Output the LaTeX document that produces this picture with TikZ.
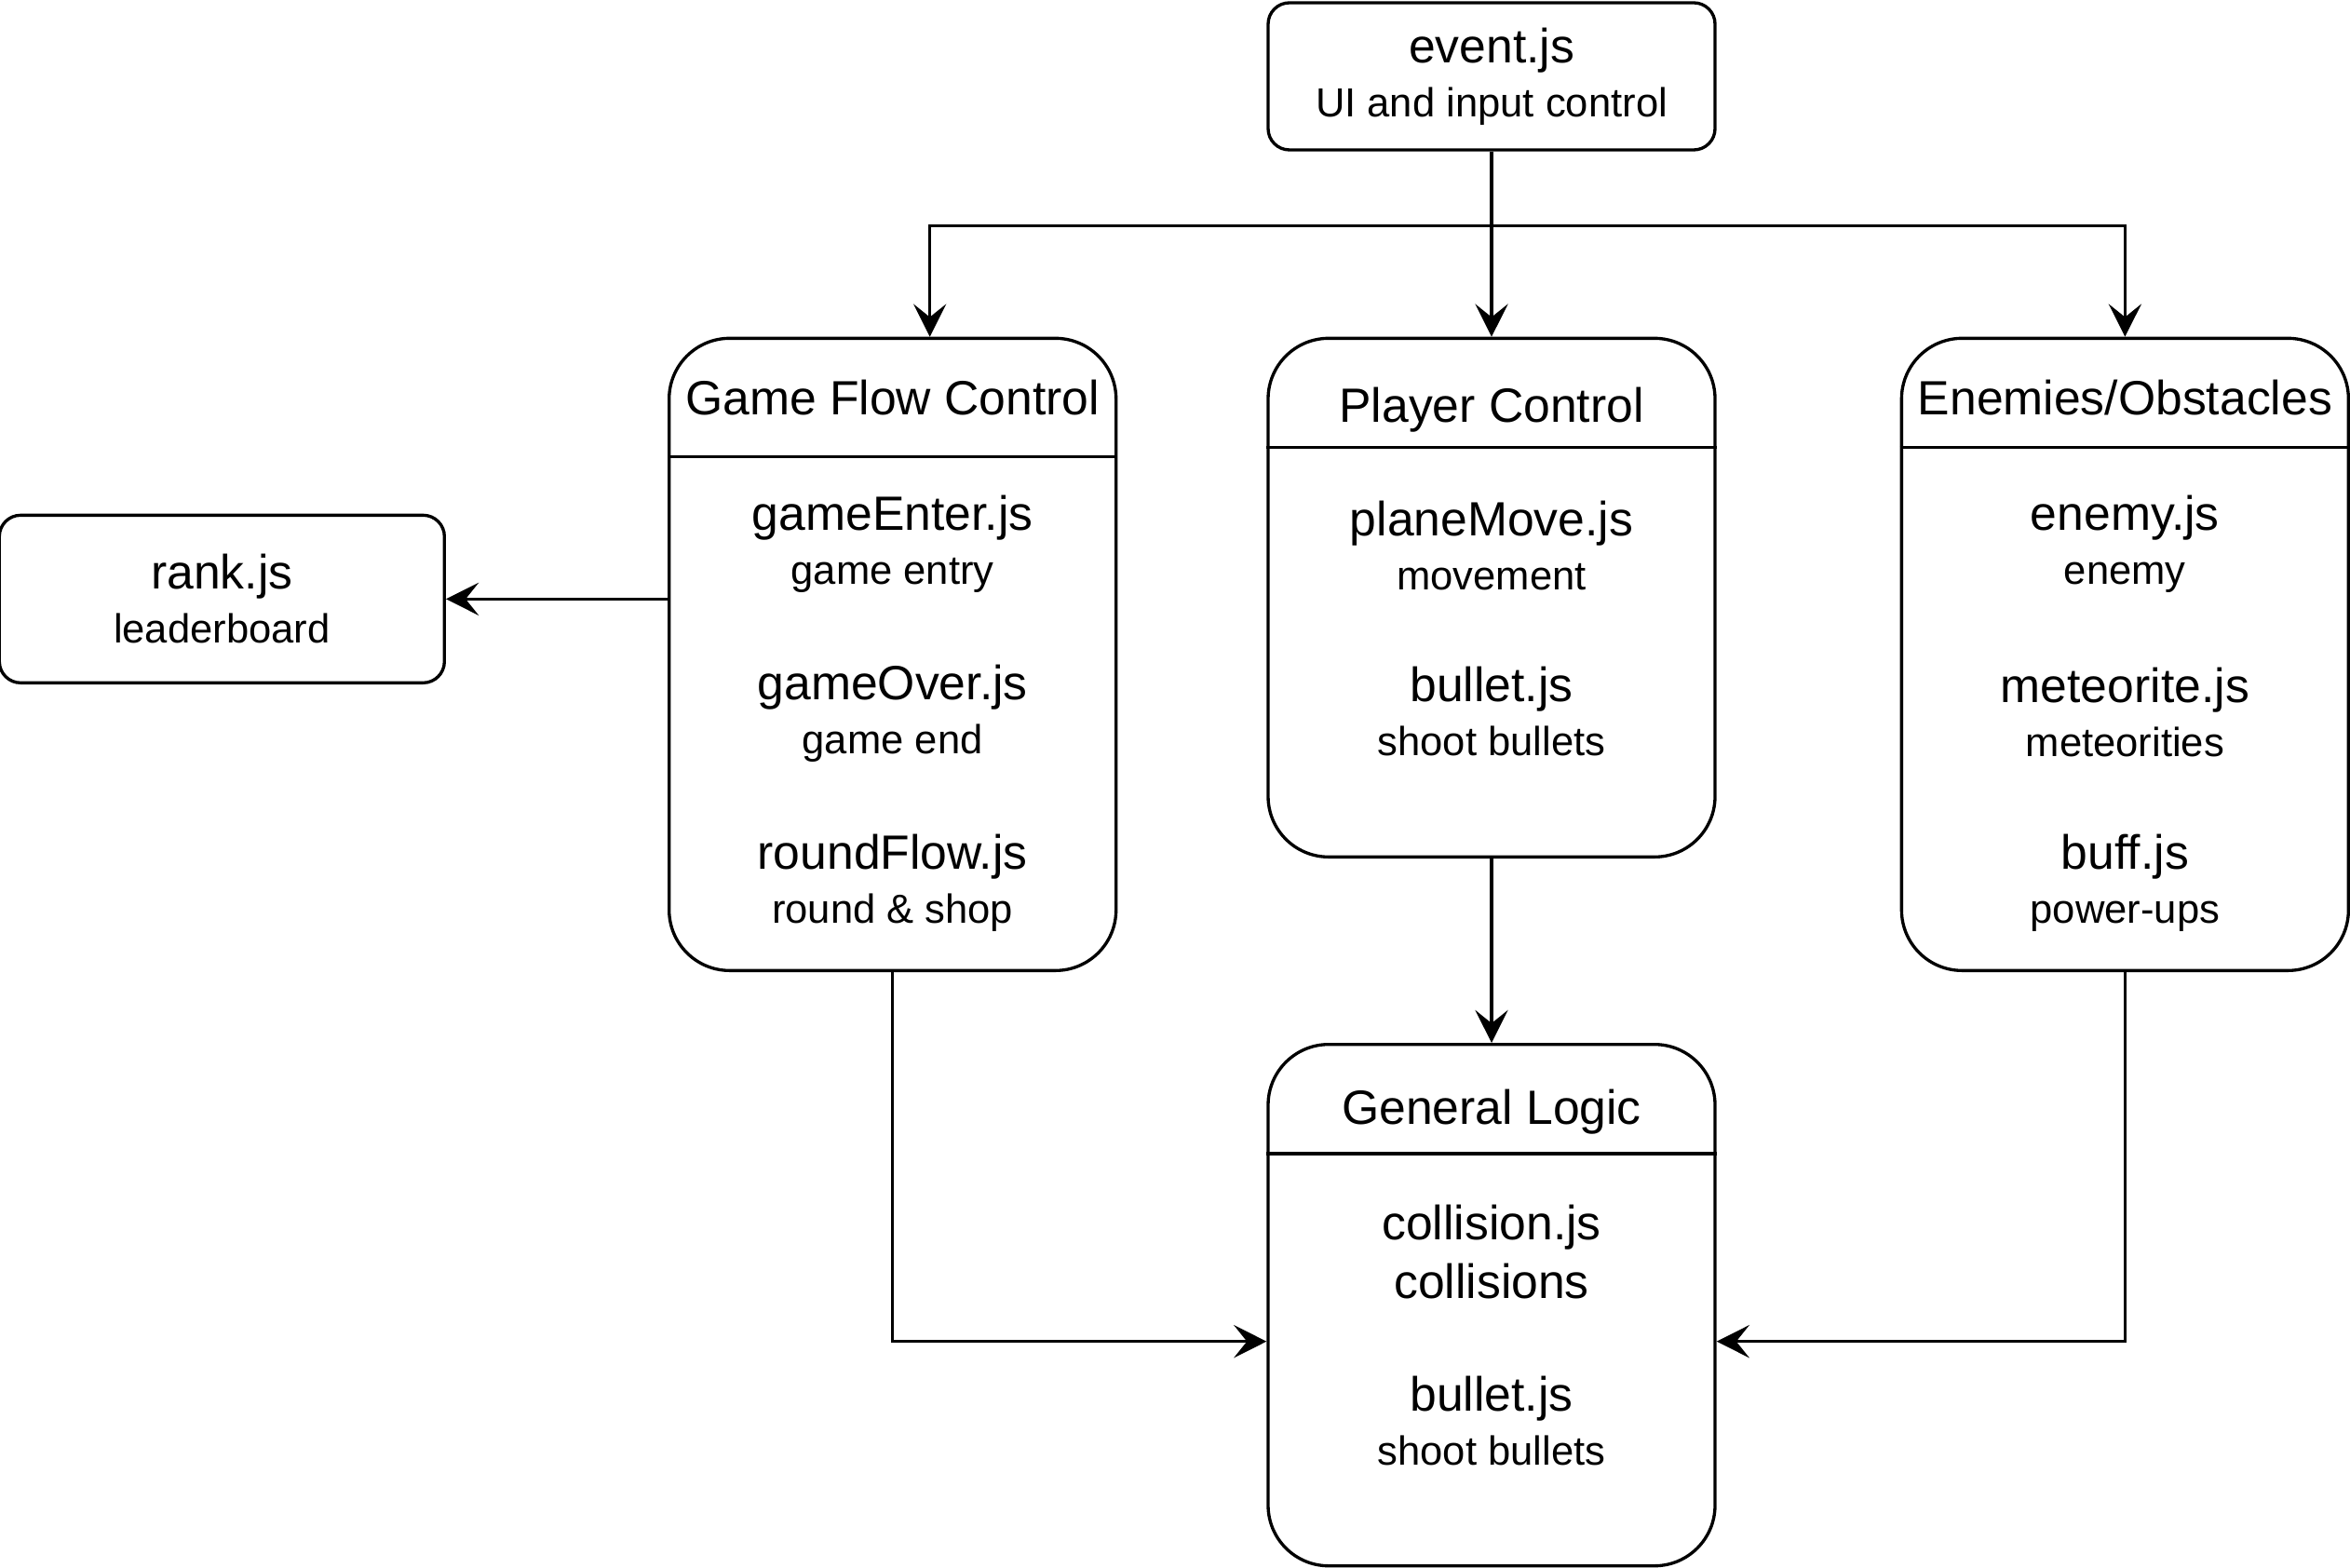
\documentclass[tikz,border=0pt]{standalone}
\usepackage{fontspec}
\setmainfont{Liberation Sans}
\usetikzlibrary{arrows.meta, positioning}

\newcommand{\fmain}{\fontsize{14.7}{16.5}\selectfont}
\newcommand{\fsub}{\fontsize{12.4}{14.5}\selectfont}

\begin{document}
\begin{tikzpicture}[
    line width=0.95pt,
    box/.style={draw, rounded corners=6.5pt, minimum width=4.8cm, align=center, font=\fmain},
    lane/.style={draw, rounded corners=18.5pt, minimum width=4.8cm},
    head/.style={font=\fmain, anchor=base},
    file/.style={align=center, font=\fmain},
    arrow/.style={-{Stealth[length=10pt, width=10pt, inset=4pt]}}
]
    \useasboundingbox (0,0) rectangle (25.24,-16.84);

    % input module on top
    \node[box, minimum height=1.58cm] (event) at (16.02,-0.82) {event.js\\{\fsub UI and input control}};

    % module groups
    \node[lane, minimum height=5.57cm, below=1.99cm of event] (player) {};
    \node[lane, minimum height=6.79cm, anchor=north east] (flow) at ([xshift=-1.6cm]player.north west) {};
    \node[lane, minimum height=6.79cm, anchor=north west] (enemy) at ([xshift=1.97cm]player.north east) {};
    \node[lane, minimum height=5.6cm, below=1.98cm of player] (general) {};
    \node[box, minimum width=4.78cm, minimum height=1.8cm, anchor=east] (rank) at ([xshift=-2.38cm, yshift=0.595cm]flow.west) {rank.js\\{\fsub leaderboard}};

    % group titles
    \node[head] (flowhd) at ([yshift=-0.835cm]flow.north) {Game Flow Control};
    \node[head] (playerhd) at ([yshift=-0.915cm]player.north) {Player Control};
    \node[head] (enemyhd) at ([yshift=-0.835cm]enemy.north) {Enemies/Obstacles};
    \node[head] (generalhd) at ([yshift=-0.875cm]general.north) {General Logic};

    \draw ([yshift=-1.29cm]flow.north west) -- ([yshift=-1.29cm]flow.north east);
    \draw ([yshift=-1.19cm]player.north west) -- ([yshift=-1.19cm]player.north east);
    \draw ([yshift=-1.19cm]enemy.north west) -- ([yshift=-1.19cm]enemy.north east);
    \draw ([yshift=-1.19cm]general.north west) -- ([yshift=-1.19cm]general.north east);

    % files
    \node[file] (enter) at ([yshift=-2.23cm]flow.north) {gameEnter.js\\{\fsub game entry}};
    \node[file] (over) at ([yshift=-4.05cm]flow.north) {gameOver.js\\{\fsub game end}};
    \node[file] (round) at ([yshift=-5.87cm]flow.north) {roundFlow.js\\{\fsub round \& shop}};

    \node[file] (move) at ([yshift=-2.24cm]player.north) {planeMove.js\\{\fsub movement}};
    \node[file] (bullet) at ([yshift=-4.02cm]player.north) {bullet.js\\{\fsub shoot bullets}};

    \node[file] (foe) at ([yshift=-2.23cm]enemy.north) {enemy.js\\{\fsub enemy}};
    \node[file] (rock) at ([yshift=-4.03cm]enemy.north) {meteorite.js\\{\fsub meteorities}};
    \node[file] (buff) at ([yshift=-5.87cm]enemy.north) {buff.js\\{\fsub power-ups}};

    \node[file] (hit) at ([yshift=-2.245cm]general.north) {collision.js\\[1.2pt]collisions};
    \node[file] (shot) at ([yshift=-4.06cm]general.north) {bullet.js\\{\fsub shoot bullets}};

    % connections
    \coordinate (fork) at ([yshift=-0.8cm]event.south);
    \draw[arrow] (event) -- (player);
    \draw[arrow] (fork) -| ([xshift=4mm]flow.north);
    \draw[arrow] (fork) -| (enemy.north);
    \draw[arrow] (flow.west |- rank.east) -- (rank.east);
    \draw[arrow] (player) -- (general);
    \draw[arrow] (flow.south) |- ([yshift=-3.9mm]general.west);
    \draw[arrow] (enemy.south) |- ([yshift=-3.9mm]general.east);
\end{tikzpicture}
\end{document}
